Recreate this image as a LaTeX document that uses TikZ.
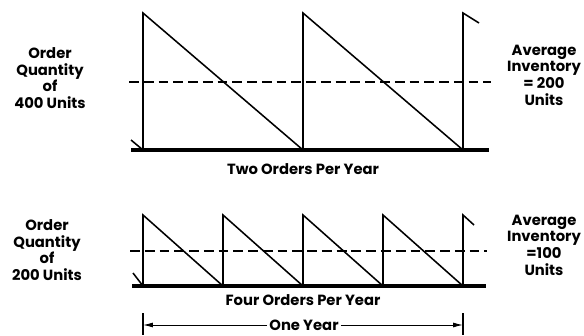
\documentclass[tikz,border=0pt]{standalone}
\usepackage{fontspec}
\setmainfont{Poppins}
\usetikzlibrary{arrows.meta}

\begin{document}
\begin{tikzpicture}[x=0.025cm,y=-0.025cm,
  lbl/.style={font=\bfseries\fontsize{10.5}{11.8}\selectfont,align=center,inner sep=1pt},
  saw/.style={line width=1.1pt,line join=miter},
  base/.style={line width=2.8pt},
  avg/.style={line width=0.9pt,dash pattern=on 7pt off 3.5pt},
  tick/.style={line width=1pt}]
  \useasboundingbox (0,0) rectangle (584,335);
  % two orders per year
  \draw[base] (131,150) -- (489,150);
  \draw[avg] (129,82) -- (491,82);
  \draw[saw] (131,140) -- (143,150);
  \foreach \x in {143,303}
    \draw[saw] (\x,150) -- (\x,13) -- (\x+160,150);
  \draw[saw] (463,150) -- (463,13) -- (479,23);
  \node[lbl] (q400) at (50,78) {Order\\Quantity\\of\\400 Units};
  \node[lbl] (avg200) at (544,75) {Average\\Inventory\\= 200\\Units};
  \node[lbl] (two) at (303,169) {Two Orders Per Year};
  % four orders per year
  \draw[base] (132,286) -- (486,286);
  \draw[avg] (130,251) -- (487,251);
  \draw[saw] (133,273) -- (143,286);
  \foreach \x in {143,223,303,383}
    \draw[saw] (\x,286) -- (\x,215) -- (\x+80,286);
  \draw[saw] (463,286) -- (463,215) -- (474,225);
  \node[lbl] (q200) at (47,250) {Order\\Quantity\\of\\200 Units};
  \node[lbl] (avg100) at (544,245) {Average\\Inventory\\=100\\Units};
  \node[lbl] (four) at (303,300) {Four Orders Per Year};
  % one year
  \coordinate (ya) at (143,325);
  \coordinate (yb) at (463,325);
  \draw[tick] (143,313) -- (143,335);
  \draw[tick] (463,313) -- (463,335);
  \node[lbl,fill=white,inner sep=1.5pt] (year) at (304,325) {One Year};
  \draw[-{Latex[length=7pt,width=3.5pt]},line width=0.7pt] (year) -- (ya);
  \draw[-{Latex[length=7pt,width=3.5pt]},line width=0.7pt] (year) -- (yb);
\end{tikzpicture}
\end{document}
